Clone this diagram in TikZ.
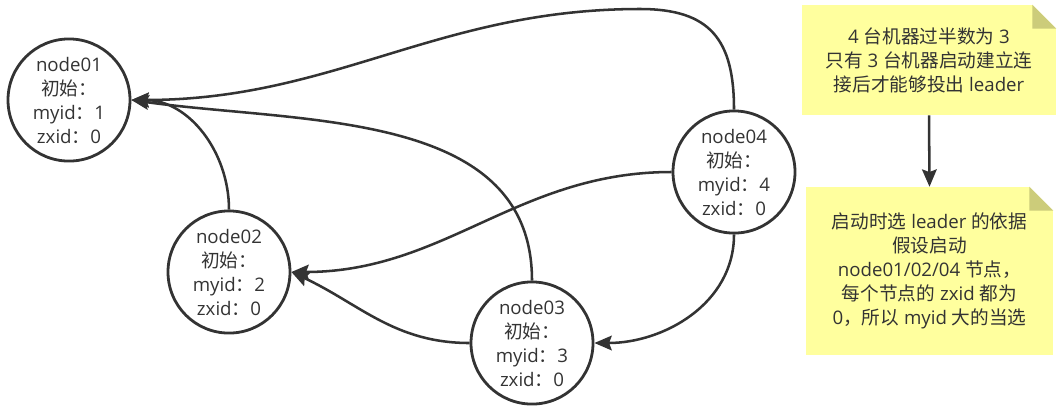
\documentclass[tikz,border=0pt]{standalone}
\usepackage{fontspec}
\setmainfont{Open Sans}
\newfontfamily\cjk{Noto Sans CJK SC}
\usetikzlibrary{shapes.geometric, arrows.meta, calc}
\definecolor{darkGrey}{RGB}{51,51,51}
\definecolor{noteYellow}{RGB}{255,255,158}
\definecolor{noteFold}{RGB}{204,204,122}

\tikzset{
	server/.style={ellipse, draw=darkGrey, line width=2.1pt, minimum width=91.5pt, minimum height=87pt, inner sep=0pt, align=center, text=darkGrey, font=\fontsize{14pt}{18pt}\selectfont},
	vote/.style={draw=darkGrey, line width=1.9pt, -{Stealth[length=13pt, width=11pt, inset=2pt]}},
	note/.style={fill=noteYellow, inner sep=0pt, align=center, text=darkGrey, font=\fontsize{14pt}{18pt}\selectfont}
}

\begin{document}
\begin{tikzpicture}[x=0.75pt, y=0.75pt]

	\useasboundingbox (0,0) rectangle (1062,-405);

% Define coordinates.

	%servers
	\node[server] (node01) at (69,-100) {node01\\{\cjk 初始：}\\myid{\cjk ：}1\\zxid{\cjk ：}0};
	\node[server] (node02) at (229,-272) {node02\\{\cjk 初始：}\\myid{\cjk ：}2\\zxid{\cjk ：}0};
	\node[server] (node03) at (532,-343) {node03\\{\cjk 初始：}\\myid{\cjk ：}3\\zxid{\cjk ：}0};
	\node[server] (node04) at (734,-172) {node04\\{\cjk 初始：}\\myid{\cjk ：}4\\zxid{\cjk ：}0};

	%top of the long curve
	\coordinate (peak) at (640,-9);

	%notes
	\node[note, minimum width=190.5pt, minimum height=82.5pt] (note1) at (929,-60) {4 {\cjk 台机器过半数为} 3\\{\cjk 只有} 3 {\cjk 台机器启动建立连}\\{\cjk 接后才能够投出} leader};
	\node[note, minimum width=185.25pt, minimum height=126pt] (note2) at (929.5,-271) {{\cjk 启动时选} leader {\cjk 的依据}\\{\cjk 假设启动}\\node01/02/04 {\cjk 节点，}\\{\cjk 每个节点的} zxid {\cjk 都为}\\0{\cjk ，所以} myid {\cjk 大的当选}};

% Fold the note corners.

	\fill[white] (note1.north east) -- +(-24,0) -- +(0,-24) -- cycle;
	\fill[noteFold] ($(note1.north east)+(-24,0)$) -- +(0,-24) -- +(24,-24) -- cycle;
	\fill[white] (note2.north east) -- +(-24,0) -- +(0,-24) -- cycle;
	\fill[noteFold] ($(note2.north east)+(-24,0)$) -- +(0,-24) -- +(24,-24) -- cycle;

% Draw votes.

	\draw[vote] (node02.north) to[out=90, in=0] (node01.east);
	\draw[vote] (node03.north) to[out=90, in=-8] (node01.east);
	\draw[vote] (node04.north) to[out=90, in=0, looseness=1.3] (peak) to[out=180, in=0] (node01.east);
	\draw[vote] (node04.west) to[out=180, in=0] (node02.east);
	\draw[vote] (node03.west) to[out=180, in=-25] (node02.east);
	\draw[vote] (node04.south) to[out=-90, in=0] (node03.east);

	\draw[vote] (note1.south) -- (note2.north);

\end{tikzpicture}
\end{document}
